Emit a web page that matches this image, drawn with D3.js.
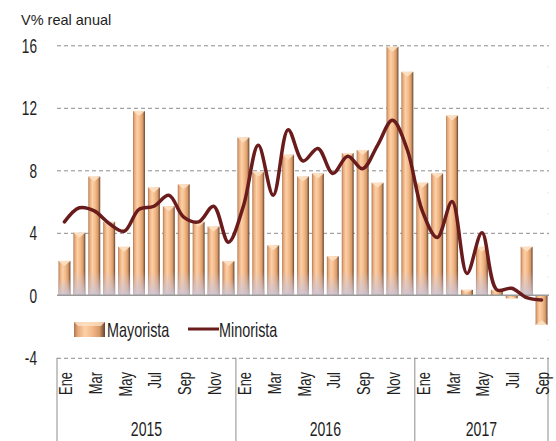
<!DOCTYPE html>
<meta charset="utf-8">
<style>
body { margin: 0; background: #fff; }
svg { display: block; font-family: "Liberation Sans", Arial, sans-serif; }
.grid line { stroke: #8c8c8c; stroke-dasharray: 4,3; stroke-width: 1; }
.grid path { display: none; }
.lbl { fill: #1e1e1e; }
</style>
<body>
<svg width="556" height="441"></svg>
<script src="https://d3js.org/d3.v7.min.js"></script>
<script>
// data (Ene 2015 .. Sep 2017)
var months = ["Ene","Feb","Mar","Abr","May","Jun","Jul","Ago","Sep","Oct","Nov","Dic"];
var years = ["2015", "2016", "2017"];
var mayorista = [2.2, 4.0, 7.6, 4.7, 3.1, 11.8, 6.9, 5.7, 7.1, 4.7, 4.4, 2.2,
                 10.1, 7.9, 3.2, 9.0, 7.6, 7.8, 2.5, 9.1, 9.3, 7.2, 15.9, 14.3,
                 7.2, 7.8, 11.5, 0.35, 3.1, 0.35, -0.2, 3.1, -1.9];
var minorista = [4.7, 5.6, 5.4, 4.6, 4.1, 5.5, 5.7, 6.4, 5.0, 4.7, 5.7, 3.4,
                 5.7, 9.6, 6.4, 10.6, 8.6, 9.4, 7.8, 8.9, 8.1, 9.6, 11.2, 9.3,
                 5.4, 3.7, 6.0, 1.4, 4.0, 0.35, 0.45, -0.15, -0.3];
var yTicks = [-4, 0, 4, 8, 12, 16];

var svg = d3.select("svg");
var pLeft = 57, pRight = 549, pTop = 45.3, pBot = 357.8;

var idx = d3.range(mayorista.length);
var x = d3.scaleBand().domain(idx).range([pLeft, pRight]).paddingInner(0.2).paddingOuter(0.1);
var y = d3.scaleLinear().domain([-4, 16]).range([pBot, pTop]);

// gradients
var defs = svg.append("defs");
var hg = defs.append("linearGradient").attr("id", "barH").attr("x1", 0).attr("x2", 1).attr("y1", 0).attr("y2", 0);
[[0, "#a87552"], [0.12, "#e8a877"], [0.35, "#fcd0a8"], [0.6, "#f3b887"], [0.82, "#d69968"], [1, "#65422c"]]
  .forEach(function(s) { hg.append("stop").attr("offset", s[0]).attr("stop-color", s[1]); });
var vg = defs.append("linearGradient").attr("id", "barFade").attr("x1", 0).attr("x2", 0).attr("y1", 0).attr("y2", 1);
vg.append("stop").attr("offset", 0).attr("stop-color", "#cbc5d8").attr("stop-opacity", 0);
vg.append("stop").attr("offset", 1).attr("stop-color", "#cbc5d8").attr("stop-opacity", 0.9);

// title
svg.append("text").attr("class", "lbl").attr("x", 21).attr("y", 25)
  .style("font-size", "14.5px").text("V% real anual");

// grid
svg.append("g").attr("class", "grid")
  .attr("transform", "translate(" + pLeft + ",0)")
  .call(d3.axisRight(y).tickValues([-4, 4, 8, 12, 16]).tickSize(pRight - pLeft).tickFormat(""));

// faint right axis
svg.append("line").attr("x1", pRight - 1).attr("x2", pRight - 1).attr("y1", pTop).attr("y2", pBot)
  .attr("stroke", "#d6d6d6").attr("stroke-dasharray", "1,20");

function cond(g, px, py, sx, size, txt, anchor, rot) {
  return g.append("text").attr("class", "lbl")
    .attr("transform", "translate(" + px + "," + py + ")" + (rot ? " rotate(" + rot + ")" : "") + " scale(" + sx + ",1)")
    .attr("text-anchor", anchor).style("font-size", size + "px").text(txt);
}

// y labels
var yl = svg.append("g");
yTicks.forEach(function(t) {
  cond(yl, 37, y(t) + 7.5, 0.65, 21, String(t), "end");
});

// bars
var bars = svg.append("g");
idx.forEach(function(i) {
  var v = mayorista[i];
  var bx = x(i), bw = x.bandwidth();
  var y0 = y(0), y1 = y(v);
  var ty = Math.min(y0, y1), th = Math.abs(y1 - y0);
  bars.append("rect").attr("x", bx).attr("y", ty).attr("width", bw).attr("height", th)
    .attr("fill", "url(#barH)");
  if (v > 0 && th > 20) {
    var fh = Math.min(24, th * 0.5);
    bars.append("rect").attr("x", bx).attr("y", y0 - fh).attr("width", bw).attr("height", fh)
      .attr("fill", "url(#barFade)");
  }
  // bevelled cap
  var cap = Math.min(5, th / 2);
  var dir = v >= 0 ? 1 : -1;
  bars.append("path")
    .attr("d", "M" + bx + "," + y1 + "L" + (bx + bw) + "," + y1 + "L" + (bx + bw / 2) + "," + (y1 + dir * cap) + "Z")
    .attr("fill", "#fde1c4").attr("opacity", 0.9);
});

// zero line
svg.append("line").attr("x1", pLeft).attr("x2", pRight).attr("y1", y(0)).attr("y2", y(0))
  .attr("stroke", "#9a9a9a").attr("stroke-width", 1.5);

// minorista line
var line = d3.line()
  .x(function(d, i) { return x(i) + x.bandwidth() / 2; })
  .y(function(d) { return y(d); })
  .curve(d3.curveCatmullRom.alpha(0.5));
svg.append("path").datum(minorista).attr("d", line)
  .attr("fill", "none").attr("stroke", "#6a1b1b").attr("stroke-width", 3.5)
  .attr("stroke-linejoin", "round").attr("stroke-linecap", "round");

// legend
var lg = svg.append("g");
lg.append("rect").attr("x", 74).attr("y", 322).attr("width", 31).attr("height", 15).attr("fill", "url(#barH)");
lg.append("path").attr("d", "M74,322L105,322L101,326L78,326Z").attr("fill", "#fde1c4").attr("opacity", 0.8);
cond(lg, 107, 337, 0.72, 20, "Mayorista", "start");
lg.append("line").attr("x1", 188).attr("x2", 219).attr("y1", 329).attr("y2", 329)
  .attr("stroke", "#6a1b1b").attr("stroke-width", 3);
cond(lg, 219, 337, 0.72, 20, "Minorista", "start");

// category axis
var ax = svg.append("g");
var seps = [pLeft, x(12) - x.step() * 0.1, x(24) - x.step() * 0.1, pRight - 1];
seps.forEach(function(xx) {
  ax.append("line").attr("x1", xx).attr("x2", xx).attr("y1", pBot).attr("y2", 441)
    .attr("stroke", "#8c8c8c").attr("stroke-width", 1);
});
idx.forEach(function(i) {
  if (i % 2 !== 0) return;
  cond(ax, x(i) + x.bandwidth() / 2 + 7.5, 372, 0.68, 19, months[i % 12], "end", -90);
});
years.forEach(function(yr, k) {
  var cx = (seps[k] + seps[k + 1]) / 2;
  cond(ax, cx, 436, 0.67, 21, yr, "middle");
});
</script>
</body>
